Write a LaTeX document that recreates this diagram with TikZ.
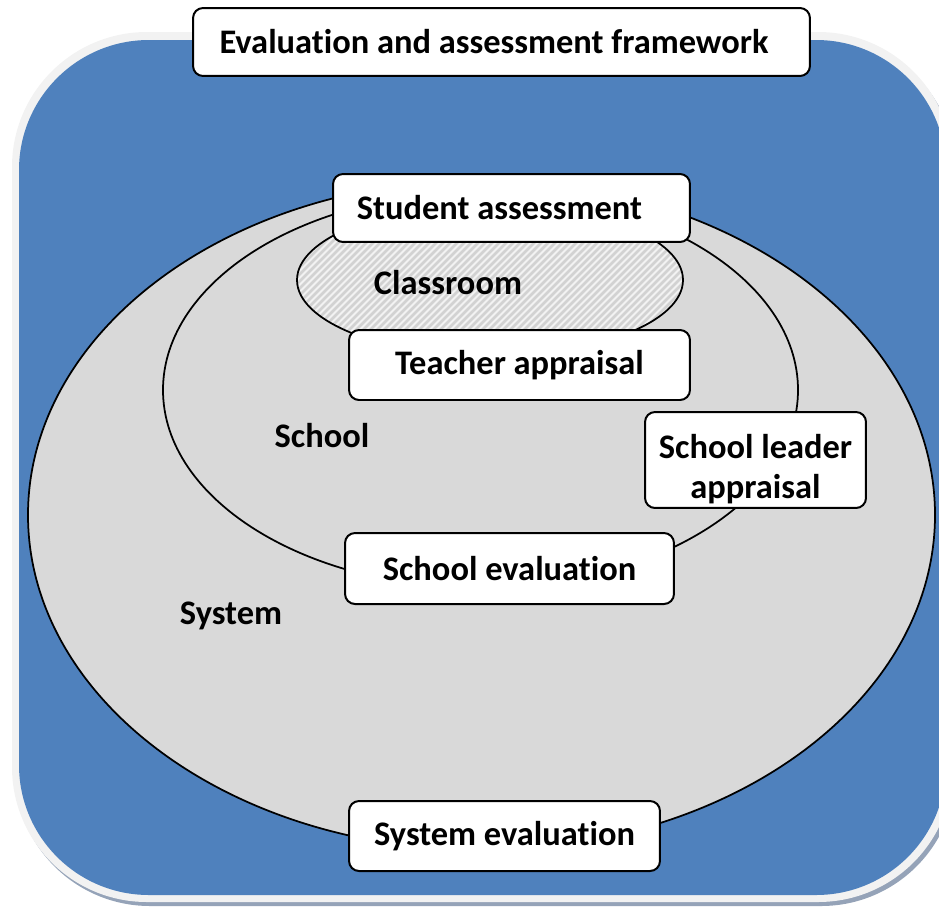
\documentclass[tikz,border=0pt]{standalone}
\usepackage{fontspec}
\setmainfont{Carlito}[Ligatures=NoCommon]
\usepackage{tikz}
\usetikzlibrary{positioning}
\definecolor{frameblue}{HTML}{4F81BD}
\definecolor{framerim}{HTML}{F2F2F2}
\definecolor{frameshadow}{HTML}{95A3B8}
\definecolor{levelgray}{HTML}{D9D9D9}
\definecolor{hatchgray}{HTML}{D2D2D2}

\begin{document}
\begin{tikzpicture}[x=0.02cm, y=-0.02cm, line width=0.04cm]
				\tikzset{box/.style={draw, fill=white, rounded corners=0.2cm, align=center, inner sep=0pt, font=\bfseries\fontsize{19.6}{22.5}\selectfont}}
				\tikzset{level/.style={draw, fill=levelgray, line width=0.035cm}}
				\tikzset{tag/.style={font=\bfseries\fontsize{19.6}{22.5}\selectfont}}

				\useasboundingbox (0,0) rectangle (939,906);
				\begin{scope}
					\clip (0,0) rectangle (939,906);
					% framework background
					\fill[frameshadow, rounded corners=2.7cm] (15,37) rectangle (956,906);
					\fill[framerim, rounded corners=2.7cm] (12,32) rectangle (953,902);
					\fill[frameblue, rounded corners=2.6cm] (19,40) rectangle (946,895);
				\end{scope}

				% levels
				\draw[level] (481.5,515) ellipse [x radius=453.5, y radius=335];
				\draw[level] (480.5,390) ellipse [x radius=317.5, y radius=198];
				\begin{scope}
					\clip (490,280) ellipse [x radius=193, y radius=76];
					\fill[framerim] (290,200) rectangle (690,360);
					\foreach \k in {0,...,72}
						\draw[hatchgray, line width=0.055cm] (200+\k*7,360) -- ++(170,-170);
				\end{scope}
				\draw[line width=0.035cm] (490,280) ellipse [x radius=193, y radius=76];

				\node (classroom) [tag] at (448,283) {Classroom};
				\node (school) [tag] at (322,436) {School};
				\node (system) [tag] at (231,616) {System};

				% components
				\node (framework) [box, minimum width=12.34cm, minimum height=1.36cm] at (501.5,42) {Evaluation and assessment framework\hspace*{0.3cm}};
				\node (student) [box, minimum width=7.14cm, minimum height=1.36cm] at (511.5,208) {Student assessment\hspace*{0.48cm}};
				\node (teacher) [box, minimum width=6.82cm, minimum height=1.4cm] at (519.5,365) {Teacher appraisal};
				\node (leader) [box, minimum width=4.42cm, minimum height=1.92cm] at (755.5,460) {\rule{0pt}{24pt}School leader\\appraisal};
				\node (schooleval) [box, minimum width=6.58cm, minimum height=1.42cm] at (509.5,568.5) {School evaluation};
				\node (systemeval) [box, minimum width=6.22cm, minimum height=1.4cm] at (504.5,836) {System evaluation};
			\end{tikzpicture}
\end{document}
